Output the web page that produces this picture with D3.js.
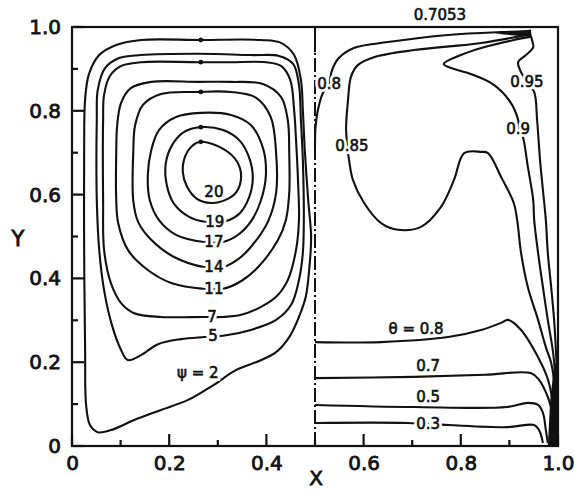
<!DOCTYPE html>
<html>
<head>
<meta charset="utf-8">
<script src="https://cdn.jsdelivr.net/npm/d3@7"></script>
<style>
  body { margin: 0; background: #fff; }
  text { font-family: "DejaVu Sans", sans-serif; fill: #111; }
</style>
</head>
<body>
<svg id="chart" width="575" height="492"></svg>
<script>
// axis ticks
var majorTicks = [0, 0.2, 0.4, 0.6, 0.8, 1.0];
var minorTicks = [0.1, 0.3, 0.5, 0.7, 0.9];
var tickLabels = ['0', '0.2', '0.4', '0.6', '0.8', '1.0'];

// streamlines, left half (psi)
var psi20 = [[0.265,0.726],[0.311,0.709],[0.340,0.678],[0.348,0.642],[0.337,0.604],[0.311,0.585],[0.286,0.580],[0.257,0.590],[0.237,0.618],[0.228,0.654],[0.233,0.692],[0.247,0.716]];
var psi19 = [[0.311,0.535],[0.344,0.554],[0.364,0.592],[0.372,0.640],[0.364,0.690],[0.344,0.730],[0.311,0.754],[0.265,0.761],[0.230,0.749],[0.206,0.718],[0.193,0.675],[0.195,0.623],[0.210,0.578],[0.241,0.547],[0.274,0.535]];
var psi17 = [[0.311,0.487],[0.344,0.506],[0.370,0.539],[0.389,0.587],[0.399,0.647],[0.393,0.711],[0.368,0.766],[0.327,0.790],[0.265,0.795],[0.214,0.785],[0.179,0.754],[0.163,0.706],[0.156,0.647],[0.160,0.587],[0.179,0.539],[0.214,0.504],[0.272,0.487]];
var psi14 = [[0.311,0.427],[0.342,0.446],[0.368,0.475],[0.403,0.535],[0.420,0.604],[0.420,0.699],[0.409,0.785],[0.379,0.831],[0.327,0.845],[0.259,0.845],[0.183,0.840],[0.146,0.814],[0.130,0.766],[0.126,0.699],[0.126,0.587],[0.136,0.535],[0.163,0.492],[0.210,0.451],[0.272,0.427]];
var psi11 = [[0.311,0.375],[0.350,0.395],[0.383,0.427],[0.424,0.492],[0.440,0.539],[0.447,0.604],[0.447,0.699],[0.444,0.778],[0.430,0.833],[0.393,0.864],[0.327,0.869],[0.259,0.869],[0.163,0.869],[0.121,0.854],[0.101,0.819],[0.093,0.766],[0.091,0.699],[0.091,0.587],[0.095,0.532],[0.115,0.468],[0.156,0.420],[0.204,0.389],[0.272,0.375]];
var psi7 = [[0.311,0.308],[0.348,0.313],[0.389,0.332],[0.420,0.356],[0.444,0.396],[0.461,0.468],[0.467,0.539],[0.465,0.635],[0.461,0.730],[0.457,0.802],[0.449,0.874],[0.430,0.907],[0.399,0.916],[0.327,0.916],[0.259,0.916],[0.142,0.916],[0.101,0.907],[0.078,0.883],[0.066,0.838],[0.064,0.778],[0.064,0.587],[0.066,0.468],[0.080,0.389],[0.101,0.341],[0.128,0.317],[0.183,0.308],[0.272,0.308]];
var psi5 = [[0.311,0.263],[0.368,0.277],[0.420,0.301],[0.451,0.337],[0.467,0.396],[0.475,0.461],[0.477,0.539],[0.475,0.683],[0.471,0.778],[0.467,0.862],[0.455,0.912],[0.426,0.931],[0.368,0.933],[0.259,0.936],[0.142,0.933],[0.097,0.926],[0.068,0.902],[0.053,0.850],[0.051,0.778],[0.051,0.587],[0.056,0.468],[0.066,0.372],[0.082,0.289],[0.101,0.229],[0.115,0.205],[0.142,0.217],[0.177,0.243],[0.224,0.255],[0.272,0.260]];
var psi2 = [[0.265,0.969],[0.142,0.969],[0.091,0.957],[0.056,0.933],[0.035,0.888],[0.027,0.828],[0.025,0.706],[0.025,0.468],[0.027,0.229],[0.029,0.098],[0.037,0.050],[0.053,0.033],[0.080,0.038],[0.128,0.062],[0.183,0.086],[0.239,0.110],[0.292,0.146],[0.337,0.181],[0.385,0.203],[0.420,0.224],[0.447,0.260],[0.467,0.308],[0.481,0.356],[0.488,0.420],[0.492,0.499],[0.486,0.587],[0.479,0.706],[0.475,0.802],[0.471,0.874],[0.457,0.933],[0.430,0.962],[0.389,0.969]];
var psiRings = [psi20, psi19, psi17, psi14, psi11, psi7, psi5, psi2];
var psiDots = [[0.265,0.969],[0.265,0.916],[0.265,0.845],[0.265,0.761],[0.265,0.726]];
var psiLabels = ['20', '19', '17', '14', '11', '7', '5', '\u03c8 = 2'];
var psiLabelAt = [[0.292,0.606],[0.294,0.535],[0.292,0.487],[0.292,0.427],[0.292,0.375],[0.288,0.308],[0.290,0.263],[0.259,0.174]];

// isotherms, right half (theta)
var theta08a = [[0.500,0.714],[0.501,0.760],[0.506,0.802],[0.516,0.842],[0.529,0.866],[0.535,0.897],[0.549,0.926],[0.580,0.950],[0.650,0.964],[0.774,0.981],[0.883,0.988],[0.944,0.990]];
var theta085 = [[0.944,0.983],[0.842,0.962],[0.704,0.945],[0.621,0.928],[0.588,0.909],[0.574,0.881],[0.568,0.826],[0.564,0.761],[0.566,0.720],[0.570,0.683],[0.578,0.635],[0.601,0.580],[0.636,0.532],[0.671,0.516],[0.718,0.523],[0.759,0.570],[0.786,0.635],[0.807,0.699],[0.842,0.702],[0.856,0.699],[0.883,0.642],[0.909,0.580],[0.916,0.539],[0.924,0.461],[0.938,0.379],[0.959,0.301],[0.975,0.236],[0.986,0.198],[0.994,0.134],[0.998,0.062],[1.0,0.007]];
var theta09 = [[0.944,0.977],[0.909,0.969],[0.842,0.950],[0.800,0.933],[0.765,0.912],[0.780,0.902],[0.815,0.890],[0.868,0.862],[0.903,0.819],[0.918,0.778],[0.920,0.759],[0.928,0.737],[0.938,0.666],[0.949,0.587],[0.951,0.539],[0.959,0.461],[0.969,0.379],[0.979,0.301],[0.990,0.222],[0.996,0.141],[0.999,0.062],[1.0,0.007]];
var theta095 = [[0.944,0.979],[0.947,0.967],[0.949,0.952],[0.934,0.933],[0.918,0.916],[0.922,0.897],[0.936,0.869],[0.951,0.845],[0.957,0.778],[0.963,0.683],[0.969,0.611],[0.975,0.539],[0.979,0.461],[0.986,0.379],[0.992,0.301],[0.996,0.222],[1.0,0.110]];
var theta08b = [[0.500,0.248],[0.636,0.248],[0.774,0.260],[0.842,0.277],[0.883,0.294],[0.897,0.301],[0.924,0.277],[0.959,0.212],[0.979,0.160],[0.990,0.100],[0.997,0.045],[1.0,0.007]];
var theta07 = [[0.500,0.162],[0.704,0.165],[0.850,0.170],[0.944,0.174],[0.961,0.158],[0.979,0.117],[0.990,0.069],[0.996,0.021],[0.998,0.005]];
var theta05 = [[0.500,0.098],[0.704,0.093],[0.895,0.093],[0.938,0.103],[0.959,0.098],[0.969,0.079],[0.975,0.038],[0.979,0.007]];
var theta03 = [[0.500,0.055],[0.691,0.055],[0.774,0.050],[0.895,0.045],[0.951,0.050],[0.961,0.038],[0.969,0.007]];
var thetaLines = [theta08a, theta085, theta09, theta095, theta08b, theta07, theta05, theta03];
var thetaLabels = ['0.8', '0.85', '0.9', '0.95', '\u03b8 = 0.8', '0.7', '0.5', '0.3', '0.7053'];
var thetaLabelAt = [[0.529,0.866],[0.576,0.716],[0.918,0.757],[0.936,0.869],[0.708,0.279],[0.733,0.193],[0.733,0.117],[0.733,0.053],[0.757,1.029]];
var topWedge = [[0.87,0.984],[0.944,0.994],[0.946,0.976]];
var cornerWedge = [[0.979,0],[1,0],[1,0.205],[0.992,0.193],[0.984,0.11]];

var svg = d3.select('#chart');
var x = d3.scaleLinear().domain([0, 1]).range([72, 558]);
var y = d3.scaleLinear().domain([0, 1]).range([446, 27]);

var openLine = d3.line()
    .x(function(d) { return x(d[0]); })
    .y(function(d) { return y(d[1]); })
    .curve(d3.curveCatmullRom.alpha(0.5));
var closedLine = d3.line()
    .x(function(d) { return x(d[0]); })
    .y(function(d) { return y(d[1]); })
    .curve(d3.curveCatmullRomClosed.alpha(0.5));
var polyLine = d3.line()
    .x(function(d) { return x(d[0]); })
    .y(function(d) { return y(d[1]); })
    .curve(d3.curveLinearClosed);

// contours
svg.append('g').selectAll('path').data(psiRings).enter()
    .append('path')
    .attr('d', closedLine)
    .attr('fill', 'none')
    .attr('stroke', '#111')
    .attr('stroke-width', 2.1);

svg.append('g').selectAll('path').data(thetaLines).enter()
    .append('path')
    .attr('d', openLine)
    .attr('fill', 'none')
    .attr('stroke', '#111')
    .attr('stroke-width', 2.1);

svg.append('g').selectAll('path').data([topWedge, cornerWedge]).enter()
    .append('path')
    .attr('d', polyLine)
    .attr('fill', '#111');

svg.append('g').selectAll('circle').data(psiDots).enter()
    .append('circle')
    .attr('cx', function(d) { return x(d[0]); })
    .attr('cy', function(d) { return y(d[1]); })
    .attr('r', 2.4)
    .attr('fill', '#111');

// divider at x = 0.5
svg.append('line')
    .attr('x1', x(0.5)).attr('x2', x(0.5))
    .attr('y1', y(0)).attr('y2', y(0.94))
    .attr('stroke', '#111')
    .attr('stroke-width', 2)
    .attr('stroke-dasharray', '14,3,2,3');
svg.append('line')
    .attr('x1', x(0.5)).attr('x2', x(0.5))
    .attr('y1', y(0.94)).attr('y2', y(1))
    .attr('stroke', '#111')
    .attr('stroke-width', 2);

// contour labels: white halo first so the line breaks round them, then the text
function addLabels(names, at, size) {
    var g = svg.append('g');
    [['#fff', 6], ['#111', 0.6]].forEach(function(s) {
        g.append('g').selectAll('text').data(names).enter()
            .append('text')
            .attr('x', function(d, i) { return x(at[i][0]); })
            .attr('y', function(d, i) { return y(at[i][1]); })
            .attr('dy', '0.36em')
            .attr('text-anchor', 'middle')
            .attr('font-size', size)
            .attr('stroke', s[0])
            .attr('stroke-width', s[1])
            .text(function(d) { return d; });
    });
}
addLabels(psiLabels, psiLabelAt, 15);
addLabels(thetaLabels, thetaLabelAt, 15);

// frame
svg.append('rect')
    .attr('x', x(0)).attr('y', y(1))
    .attr('width', x(1) - x(0)).attr('height', y(0) - y(1))
    .attr('fill', 'none')
    .attr('stroke', '#111')
    .attr('stroke-width', 2.2);

// inward tick marks on the bottom and left edges
var ticks = svg.append('g');
[[majorTicks, 12], [minorTicks, 6]].forEach(function(t) {
    ticks.append('g').selectAll('line').data(t[0]).enter()
        .append('line')
        .attr('x1', function(d) { return x(d); })
        .attr('x2', function(d) { return x(d); })
        .attr('y1', y(0))
        .attr('y2', y(0) - t[1])
        .attr('stroke', '#111')
        .attr('stroke-width', 2.2);
    ticks.append('g').selectAll('line').data(t[0]).enter()
        .append('line')
        .attr('x1', x(0))
        .attr('x2', x(0) + t[1])
        .attr('y1', function(d) { return y(d); })
        .attr('y2', function(d) { return y(d); })
        .attr('stroke', '#111')
        .attr('stroke-width', 2.2);
});

// tick labels through d3 axes
svg.append('g').attr('class', 'axis').attr('transform', 'translate(0,' + y(0) + ')')
    .call(d3.axisBottom(x).tickValues(majorTicks).tickSize(0).tickPadding(10)
        .tickFormat(function(d, i) { return tickLabels[i]; }));
svg.append('g').attr('class', 'axis').attr('transform', 'translate(' + x(0) + ',0)')
    .call(d3.axisLeft(y).tickValues(majorTicks).tickSize(0).tickPadding(11)
        .tickFormat(function(d, i) { return tickLabels[i]; }));

svg.selectAll('.axis .domain').remove();
svg.selectAll('.axis .tick line').remove();
svg.selectAll('.axis .tick text')
    .attr('font-family', '"DejaVu Sans", sans-serif')
    .attr('font-size', 20)
    .attr('fill', '#111')
    .attr('stroke', '#111')
    .attr('stroke-width', 0.8);

svg.append('text')
    .attr('x', 316).attr('y', 478)
    .attr('dy', '0.36em')
    .attr('text-anchor', 'middle')
    .attr('font-size', 20)
    .attr('stroke', '#111')
    .attr('stroke-width', 0.8)
    .text('X');
svg.append('text')
    .attr('x', 18).attr('y', 238)
    .attr('dy', '0.36em')
    .attr('text-anchor', 'middle')
    .attr('font-size', 21)
    .attr('stroke', '#111')
    .attr('stroke-width', 0.8)
    .text('Y');
</script>
</body>
</html>
